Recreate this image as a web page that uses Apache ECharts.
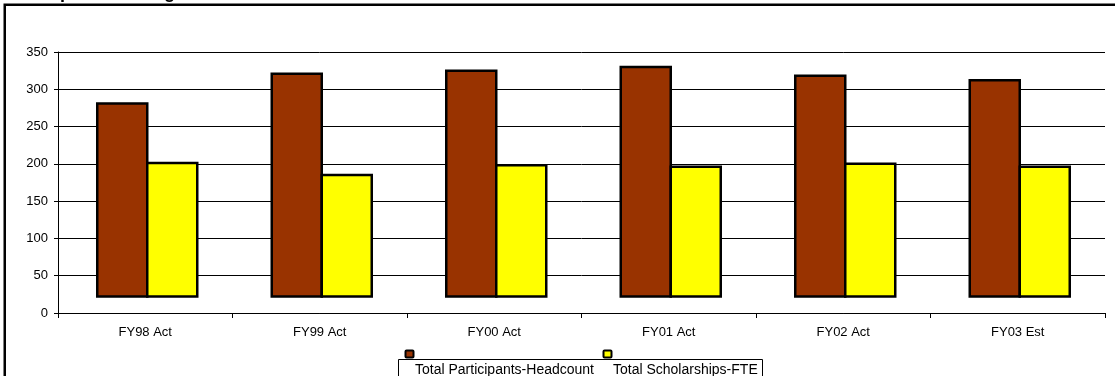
<!DOCTYPE html>
<html>
<head>
<meta charset="utf-8">
<script src="https://cdn.jsdelivr.net/npm/echarts@6/dist/echarts.min.js"></script>
<style>
  html, body { margin: 0; padding: 0; background: #fff; }
  #chart { width: 1115px; height: 376px; }
</style>
</head>
<body>
<div id="chart"></div>
<script>
// Fiscal years on the category axis
const categories = ['FY98 Act', 'FY99 Act', 'FY00 Act', 'FY01 Act', 'FY02 Act', 'FY03 Est'];
// Series values
const participantsHeadcount = [281, 321, 325, 330, 318, 312];
const scholarshipsFTE = [201, 185, 198, 196, 200, 196];
const seriesNames = ['Total Participants-Headcount', 'Total Scholarships-FTE'];
// Value-axis ticks
const yTicks = [0, 50, 100, 150, 200, 250, 300, 350];
// Columns rise from this floor value on the value axis
const columnFloor = 22;

const colors = ['#993300', '#FFFF00'];
const BAR_W = 50;
const FONT = 'Liberation Sans, Arial, sans-serif';

function columnRenderer(seriesIdx) {
  return function (params, api) {
    const idx = api.value(0);
    const top = api.coord([idx, api.value(1)]);
    const bottom = api.coord([idx, columnFloor]);
    const cx = top[0] + 2;
    const x = seriesIdx === 0 ? cx - BAR_W : cx;
    return {
      type: 'rect',
      shape: { x: x, y: top[1], width: BAR_W, height: bottom[1] - top[1] },
      style: { fill: colors[seriesIdx], stroke: '#000', lineWidth: 2.5 }
    };
  };
}

const chart = echarts.init(document.getElementById('chart'), null, { renderer: 'canvas' });

const legendX = 398, legendY = 359;
const legendItemX = [415, 613];
const markerX = [405, 603];

chart.setOption({
  backgroundColor: '#fff',
  animation: false,
  textStyle: { fontFamily: FONT },
  grid: { left: 58, right: 10, top: 52, bottom: 63 },
  xAxis: {
    type: 'category',
    data: categories,
    boundaryGap: true,
    axisLine: { lineStyle: { color: '#000', width: 1 } },
    axisTick: { show: true, length: 5, lineStyle: { color: '#000' } },
    axisLabel: { color: '#000', fontSize: 13, margin: 13 },
    splitLine: { show: false }
  },
  yAxis: {
    type: 'value',
    min: yTicks[0],
    max: yTicks[yTicks.length - 1],
    interval: yTicks[1] - yTicks[0],
    axisLine: { show: true, lineStyle: { color: '#000', width: 1 } },
    axisTick: { show: true, length: 4, lineStyle: { color: '#000' } },
    axisLabel: { color: '#000', fontSize: 13, margin: 10 },
    splitLine: { show: true, lineStyle: { color: '#000', width: 1 } }
  },
  series: [
    {
      name: seriesNames[0],
      type: 'custom',
      renderItem: columnRenderer(0),
      encode: { x: 0, y: 1 },
      data: participantsHeadcount.map((v, i) => [i, v])
    },
    {
      name: seriesNames[1],
      type: 'custom',
      renderItem: columnRenderer(1),
      encode: { x: 0, y: 1 },
      data: scholarshipsFTE.map((v, i) => [i, v])
    }
  ],
  graphic: [
    // chart title, mostly above the top edge
    {
      type: 'text', left: 5, top: -16,
      style: { text: 'Participants in Program', fill: '#000', font: 'bold 18px ' + FONT }
    },
    // outer frame
    {
      type: 'rect',
      shape: { x: 4.75, y: 4.75, width: 1200, height: 500 },
      style: { fill: 'none', stroke: '#000', lineWidth: 2.5 },
      silent: true
    },
    // legend box
    {
      type: 'rect',
      shape: { x: legendX + 0.5, y: legendY + 0.5, width: 364, height: 40 },
      style: { fill: '#fff', stroke: '#000', lineWidth: 1 }
    },
    ...seriesNames.flatMap((name, i) => [
      {
        type: 'rect',
        shape: { x: markerX[i] + 0.5, y: 350.5, width: 8, height: 7, r: 1 },
        style: { fill: colors[i], stroke: '#000', lineWidth: 2 }
      },
      {
        type: 'text', x: legendItemX[i], y: 370,
        style: { text: name, fill: '#000', font: '14px ' + FONT, textVerticalAlign: 'middle' }
      }
    ])
  ]
});
</script>
</body>
</html>
